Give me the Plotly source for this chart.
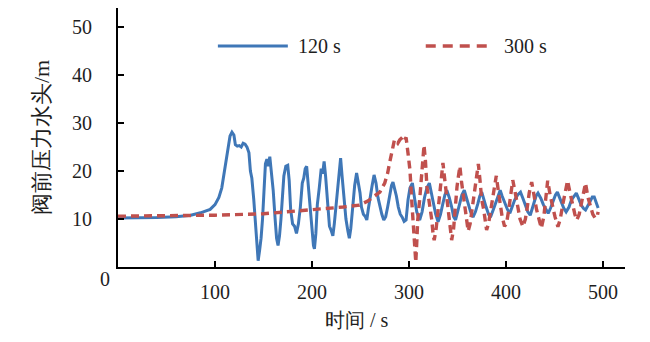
import plotly.graph_objects as go

# ---- data ----
t_120 = [0, 20, 40, 60, 75, 85, 95, 100, 104, 107, 110, 113, 115.5, 117.5, 119.5, 121, 123, 125, 127, 129,
         131, 133, 135, 136.5, 138, 140, 142, 143.5, 144.5, 146, 147.5, 149, 150.5, 152, 153.5, 155, 156.5,
         158, 160, 162, 163.5, 165, 166.5, 168, 169.5, 171, 173, 175, 176.5, 178, 180, 182, 184, 186, 188,
         190, 191.5, 193, 194.5, 196, 198, 200, 201.5, 202.5, 204, 205.5, 207.5, 209.5, 211, 212.5, 214,
         216, 218, 220, 221.5, 223, 225, 227, 228.5, 229.5, 231, 233, 235, 237, 238.5, 240, 242, 244, 246,
         247.5, 249.5, 251, 253, 255, 256.5, 258, 260, 262, 264, 266, 268, 270, 272, 274, 276, 278, 280,
         282, 283.5, 285, 287, 289, 291, 293, 295, 297, 299, 301, 303.5, 306, 308, 311, 313.5, 316, 318.5,
         321, 323, 325, 327.5, 330, 332.5, 335, 337, 339, 341.5, 344, 346, 348, 350, 352, 354.5, 357, 359,
         361, 363.5, 366, 368.5, 371, 373, 375, 377, 379.5, 382, 384, 387, 390, 392, 394, 396, 399, 401.5,
         404, 406.5, 409, 412, 415, 417.5, 420, 422.5, 425, 427, 429, 431, 433, 436, 438.5, 441, 443.5,
         446, 449, 451, 453, 455, 457, 459.5, 462, 465, 467.5, 470, 472.5, 475, 477.5, 480, 482, 484.5,
         487, 489, 491, 493, 495]
h_120 = [10.2, 10.2, 10.3, 10.5, 10.8, 11.3, 12.0, 13.0, 14.5, 16.5, 20, 24.4, 27.3, 28.1, 27.5, 25.5,
         25.2, 25.3, 25.0, 25.8, 25.6, 25.0, 23.8, 20, 18.5, 14, 8, 2.5, 1.3, 3.5, 6, 10, 16, 21.5, 22.5,
         21, 23, 20, 16, 10, 6, 4.5, 6.5, 10, 15, 19, 21, 21.2, 18, 12, 9, 8.5, 7, 9, 12.5, 17.5, 18.5,
         20.5, 21, 17, 12, 8, 4.5, 3.8, 7, 13, 16.5, 20.5, 19.5, 22, 19, 13, 8.5, 7.5, 6.5, 9, 13.5, 18,
         21.5, 22.7, 19, 14.5, 10, 7.5, 6, 8, 13, 17, 19.6, 18, 15.5, 12.5, 11, 10.5, 9.8, 12, 15, 17,
         19.2, 17.5, 14.5, 12.5, 11, 9.8, 10.5, 12.5, 15, 17, 17.7, 16.5, 14.8, 12.5, 11, 10.4, 9.5, 9.8,
         14, 16.5, 17.5, 14, 11.5, 9.8, 11.5, 14.5, 16.5, 17.5, 15.5, 13.9, 11, 9.4, 11, 13.3, 15, 16,
         14.5, 12.5, 10.5, 9.8, 11.5, 13.3, 15, 16, 14.5, 13.2, 11.5, 10.4, 11.5, 13.2, 14.8, 15.6, 14,
         12.5, 11, 10.4, 12, 13.9, 15.2, 16, 14.8, 13.3, 12, 11.2, 12.5, 14, 15, 15.6, 14.3, 12.9, 11.5,
         10.8, 12, 13.5, 14.8, 15.4, 14.3, 13, 12, 11.2, 12.3, 14, 15, 15.6, 14.5, 13.3, 12.3, 11.5, 12.5,
         14, 14.8, 15.4, 14.2, 12.9, 12.2, 11.9, 12.8, 14, 14.6, 14.6, 13.5, 12.3]

t_300 = [0, 50, 100, 150, 200, 232, 249, 258, 263, 270, 275, 278, 280, 283, 285, 287, 288.5, 290.5, 292,
         294, 295.5, 297, 299, 301, 303, 304.5, 306, 307, 308, 309, 311, 312.5, 314, 315.5, 317, 318.5,
         320.5, 322, 323.5, 325, 326, 328, 330, 332, 333.5, 335, 337, 339, 341, 342.5, 344, 346, 347.5,
         349.5, 351, 352.5, 354, 356, 357.5, 359, 361, 363, 365, 367, 368.5, 370, 371.5, 373, 375, 377,
         378.5, 380, 382, 384, 386, 388, 390, 392, 394, 396, 398.5, 400.5, 402.5, 404.5, 407, 409.5, 412,
         414.5, 417.5, 420, 422, 424, 426.5, 429, 431.5, 434, 436.5, 439, 441, 443, 445.5, 448, 450.5,
         453.5, 456, 458.5, 461, 463.5, 466, 468.5, 471, 473, 475.5, 478, 480, 482, 484.5, 487, 489.5,
         492, 494, 495]
h_300 = [10.6, 10.7, 10.8, 11.1, 11.9, 12.5, 12.9, 13.8, 14.6, 15.6, 17.5, 19.6, 21.7, 25, 26.5, 26.2,
         25.8, 26.5, 26.9, 27.2, 26.5, 27, 23.7, 20.2, 13.3, 8, 2, 1, 5, 9.8, 14, 18, 22, 25.4, 22, 16.7,
         14, 12, 9.8, 6.5, 5.6, 8, 12, 16.7, 19.5, 21.7, 18, 14.6, 11, 8, 5.6, 8, 12.5, 16.7, 19, 21, 18,
         15, 12.5, 10, 7.5, 9, 12, 14, 16.5, 18.5, 21.5, 18.5, 14, 12, 10, 7.7, 9, 11.5, 14.5, 17, 19, 16,
         13, 10.5, 8.5, 9, 11.5, 15, 18.1, 15.5, 12.5, 10, 8.4, 10, 12.5, 15.5, 17.7, 14.5, 12, 10, 8.1,
         10.5, 14, 18, 15, 12.5, 10.5, 8.4, 10, 13, 15.5, 18, 15.5, 13, 11, 9.8, 11, 13.5, 16, 17.5, 14.5,
         12.5, 11, 10.2, 10.5, 11.5]

x_ticks = [100, 200, 300, 400, 500]
y_ticks = [10, 20, 30, 40, 50]
series_names = ["120 s", "300 s"]
x_title = "时间 / s"
y_title = "阀前压力水头/m"

BLUE = "#3f77b7"
RED = "#c0504d"
FONT = "Times New Roman"
TXT = "#1e1e1e"
f20 = dict(family=FONT, size=20, color=TXT)

fig = go.Figure()
fig.add_trace(go.Scatter(x=t_120, y=h_120, mode="lines", name=series_names[0],
                         line=dict(color=BLUE, width=3), showlegend=False))
fig.add_trace(go.Scatter(x=t_300, y=h_300, mode="lines", name=series_names[1],
                         line=dict(color=RED, width=3.4, dash="8px,5px"), showlegend=False))

# manual legend (long sample lines like the reference)
fig.add_shape(type="line", xref="paper", yref="paper", x0=0.197, x1=0.335, y0=0.853, y1=0.853,
              line=dict(color=BLUE, width=3))
fig.add_shape(type="line", xref="paper", yref="paper", x0=0.607, x1=0.734, y0=0.853, y1=0.853,
              line=dict(color=RED, width=3.4, dash="10px,7px"))
fig.add_annotation(xref="paper", yref="paper", x=0.351, y=0.853, text=series_names[0], showarrow=False,
                   xanchor="left", yanchor="middle", font=f20)
fig.add_annotation(xref="paper", yref="paper", x=0.757, y=0.853, text=series_names[1], showarrow=False,
                   xanchor="left", yanchor="middle", font=f20)
# lone origin label
fig.add_annotation(xref="paper", yref="paper", x=-0.026, y=-0.045, text="0", showarrow=False,
                   xanchor="center", yanchor="middle", font=f20)
# x-axis title (slightly left of the plot centre, as in the reference)
fig.add_annotation(xref="paper", yref="paper", x=0.471, y=-0.205, text=x_title, showarrow=False,
                   xanchor="center", yanchor="middle", font=f20)

fig.update_layout(
    width=650, height=342,
    margin=dict(l=118, r=25, t=8, b=75),
    paper_bgcolor="white", plot_bgcolor="white",
    font=f20,
    xaxis=dict(range=[0, 522.7], tickvals=x_ticks, ticks="inside", ticklen=6, tickwidth=2,
               tickcolor="black", showline=True, linecolor="black", linewidth=2, showgrid=False,
               zeroline=False, ticklabelstandoff=6, tickfont=f20),
    yaxis=dict(range=[0, 54], tickvals=y_ticks, ticks="inside", ticklen=6, tickwidth=2,
               tickcolor="black", showline=True, linecolor="black", linewidth=2, showgrid=False,
               zeroline=False, ticklabelstandoff=20, tickfont=f20,
               title=dict(text=y_title, font=dict(family=FONT, size=22, color=TXT), standoff=16)),
)

fig.write_html("out.html")
